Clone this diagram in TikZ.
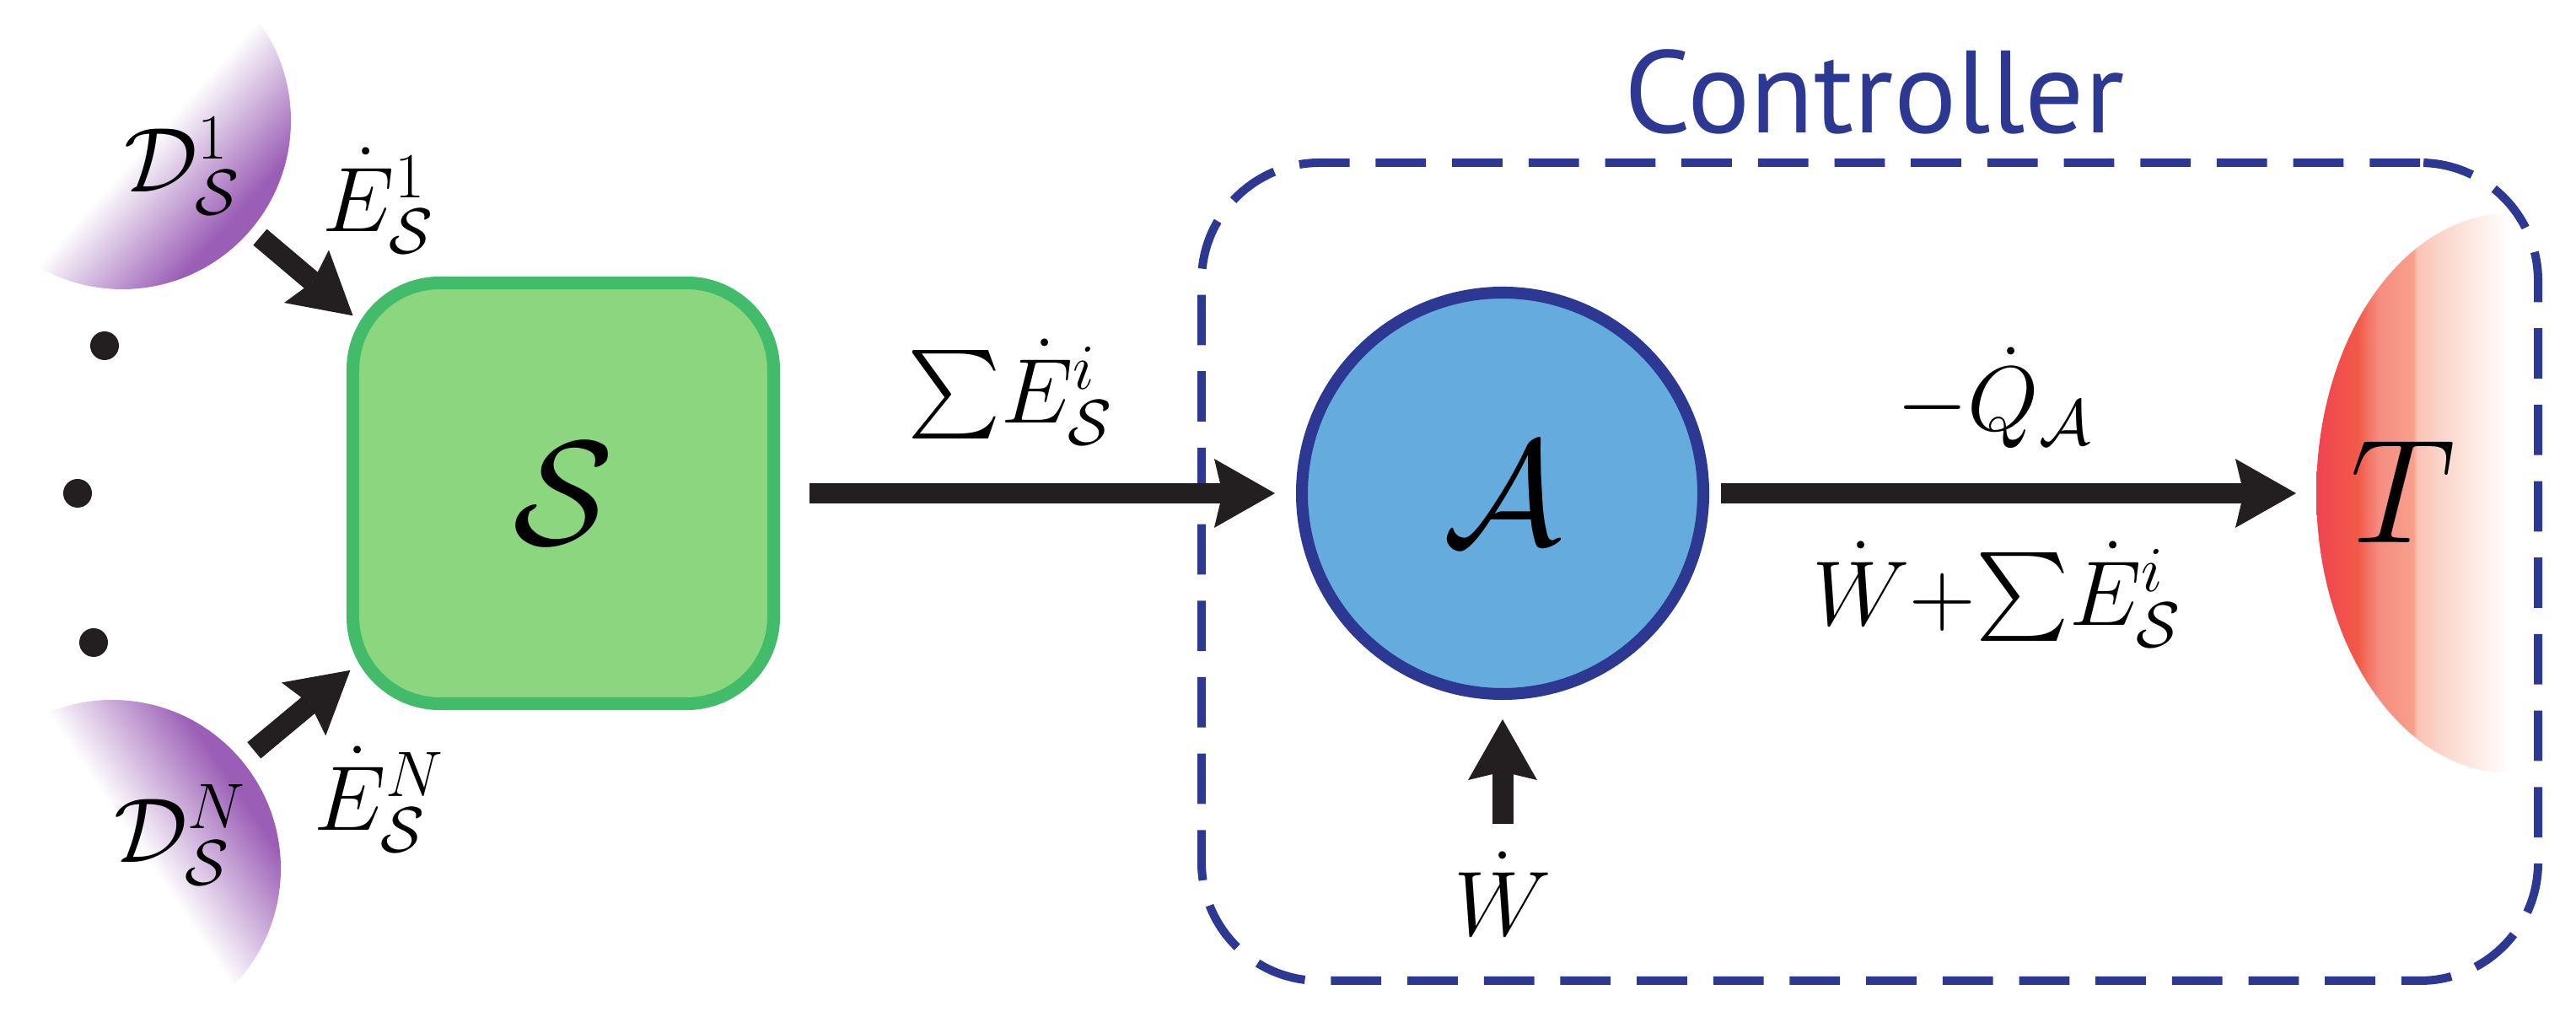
\RequirePackage{fix-cm}
\documentclass[tikz,border=0pt]{standalone}
\usepackage{exscale}
\usepackage{fontspec}
\newfontfamily\ctrlfont{PT Sans}
\usetikzlibrary{arrows.meta,shapes.geometric}
\definecolor{dpurple}{RGB}{155,94,182}
\definecolor{sgreen}{RGB}{141,214,128}
\definecolor{sgreenline}{RGB}{66,187,106}
\definecolor{ablue}{RGB}{102,171,222}
\definecolor{navy}{RGB}{44,56,145}
\definecolor{inkblack}{RGB}{35,31,32}
\definecolor{tred}{RGB}{240,68,82}
\definecolor{tred2}{RGB}{241,90,71}
\definecolor{tsalmon}{RGB}{245,140,128}
\definecolor{tsalmon2}{RGB}{247,160,140}
\definecolor{tpale}{RGB}{249,195,180}
\definecolor{tpale2}{RGB}{251,215,205}
\pgfdeclareverticalshading{dfade}{100bp}{color(0bp)=(white); color(55bp)=(white); color(72bp)=(dpurple); color(100bp)=(dpurple)}
\pgfdeclarehorizontalshading{tfade}{100bp}{color(0bp)=(tred); color(25bp)=(tred); color(30.4bp)=(tred2); color(33bp)=(tsalmon); color(37.5bp)=(tsalmon2); color(38bp)=(tpale); color(41.5bp)=(tpale2); color(50bp)=(white); color(100bp)=(white)}
\begin{document}
\begin{tikzpicture}[line join=round,
	>={Stealth[length=20.5pt,width=23.3pt,inset=2.8pt,line width=0pt 0]},
	lab/.style={inner sep=0pt,font=\fontsize{31}{37}\selectfont},
	big/.style={inner sep=0pt,font=\fontsize{50}{60}\selectfont},
	flow/.style={->,line width=7.1pt,draw=inkblack},
	source/.style={circle,shade,shading=dfade,minimum size=4cm,inner sep=0pt,outer sep=0pt}]
	\def\bsum{\scalebox{1.2}{$\textstyle\sum$}}
	\useasboundingbox (0,0) rectangle (30.55,12.25);
	% sources
	\node[source,shading angle=-132] (d1) at (1.45,10.82) {};
	\node[source,shading angle=-56] (dN) at (1.33,1.95) {};
	\node[lab] (d1lab) at (2.16,10.28) {$\mathcal{D}^1_{\mathcal{S}}$};
	\node[lab] (dNlab) at (2.14,2.35) {$\mathcal{D}^N_{\mathcal{S}}$};
	\fill[inkblack] (1.24,8.15) circle (0.17) (0.92,6.40) circle (0.17) (1.11,4.63) circle (0.17);
	% system and agent
	\node[big,draw=sgreenline,fill=sgreen,line width=4.3pt,rounded corners=1.03cm,minimum size=4.99cm,outer sep=0pt] (S) at (6.68,6.40) {$\mathcal{S}$};
	\node[big,circle,draw=navy,fill=ablue,line width=4pt,minimum size=4.76cm,outer sep=0pt] (A) at (17.82,6.40) {$\mathcal{A}$};
	\node[ellipse,shade,shading=tfade,minimum width=4.6cm,minimum height=6.64cm,inner sep=0pt,outer sep=0pt] (T) at (29.77,6.40) {};
	\node[big] (Tlab) at (28.50,6.42) {$T$};
	% controller
	\node[draw=navy,line width=2.85pt,dash pattern=on 17pt off 8.8pt,rounded corners=1.4cm,minimum width=15.85cm,minimum height=9.70cm,outer sep=0pt] (ctrl) at (22.175,5.47) {};
	\node[inner sep=0pt,text=navy,font=\ctrlfont\fontsize{39.5}{46}\selectfont] (ctrllab) at (22.23,11.16) {Controller};
	% labels
	\node[lab] (e1lab) at (4.49,9.87) {$\dot{E}^1_{\mathcal{S}}$};
	\node[lab] (eNlab) at (4.50,2.77) {$\dot{E}^N_{\mathcal{S}}$};
	\node[lab] (sumlab) at (11.98,7.60) {$\bsum\dot{E}^i_{\mathcal{S}}$};
	\node[lab] (qlab) at (23.65,7.53) {$-\dot{Q}_{\mathcal{A}}$};
	\node[lab] (wsumlab) at (23.68,5.20) {$\dot{W}{+}\bsum\dot{E}^i_{\mathcal{S}}$};
	\node[lab] (wlab) at (17.82,1.65) {$\dot{W}$};
	% flows
	\draw[flow,shorten <=0.14cm] (d1) -- (S);
	\draw[flow,shorten <=0.19cm,shorten >=0.04cm] (dN) -- (S);
	\draw[flow,shorten <=0.425cm,shorten >=0.32cm] (S) -- (A);
	\draw[flow,shorten <=0.21cm,shorten >=0.24cm] (A) -- (T);
	\draw[flow,shorten <=0.33cm,shorten >=0.30cm] (wlab) -- (A);
\end{tikzpicture}
\end{document}
